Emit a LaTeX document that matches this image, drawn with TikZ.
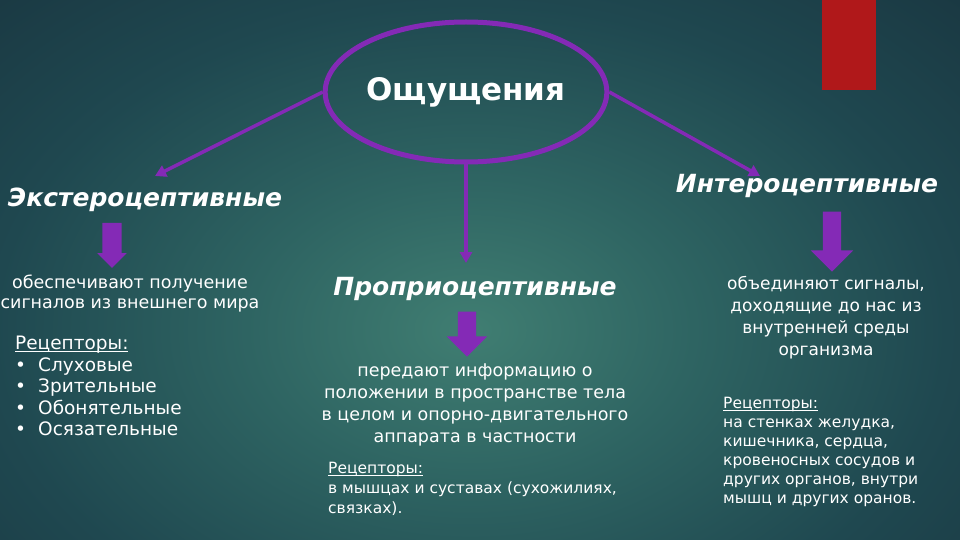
\documentclass[tikz,border=0pt]{standalone}
\usepackage{fontspec}
\setmainfont{DejaVu Sans}
\usetikzlibrary{arrows.meta,shapes.geometric,shapes.arrows}
\definecolor{bgcenter}{RGB}{64,126,114}
\definecolor{bgmid}{RGB}{46,100,98}
\definecolor{bgouter}{RGB}{31,72,80}
\definecolor{bgedge}{RGB}{26,56,66}
\definecolor{purp}{RGB}{132,42,182}
\definecolor{redbar}{RGB}{176,24,26}
\pgfdeclareradialshading{bgglow}{\pgfpoint{0bp}{0bp}}{color(0bp)=(bgcenter); color(8bp)=(bgmid); color(17bp)=(bgouter); color(25bp)=(bgedge); color(50bp)=(bgedge)}
\newcommand{\fs}[2]{\fontsize{#1pt}{#2pt}\selectfont}
\newcommand{\recul}[1]{\underline{\raisebox{0pt}[\height][0pt]{#1}}}
\begin{document}
\begin{tikzpicture}[x=1pt, y=-1pt,
	every node/.style={text=white, inner sep=0pt},
	heading/.style={font=\fs{25}{30}\bfseries\itshape, anchor=base},
	desc/.style={font=\fs{17.5}{22}, align=center, anchor=north},
	recep/.style={align=left, anchor=north west},
	link/.style={draw=purp, line width=3.5pt, -{Triangle[length=11pt,width=12pt]}},
	blockarrow/.style={single arrow, shape border rotate=270, fill=purp, inner sep=9pt}]
			\useasboundingbox (0,0) rectangle (960,540);
			\begin{scope}
				\clip (0,0) rectangle (960,540);
				\fill[bgedge] (0,0) rectangle (960,540);
				\shade[shading=bgglow] (470,330) ellipse [x radius=700pt, y radius=480pt];
			\end{scope}
			\fill[redbar] (822,0) rectangle (876,90);
			
			\node[ellipse, draw=purp, line width=5pt, minimum width=232pt, minimum height=140pt, font=\fs{31}{36}\bfseries] (oshch) at (466,92){Ощущения};
			
			\node[heading] (extero) at (145,206){Экстероцептивные};
			\node[heading] (proprio) at (475,295){Проприоцептивные};
			\node[heading] (intero) at (807,193){Интероцептивные};
			
			\coordinate (extend) at (155,176);
			\coordinate (proend) at (466,263);
			\coordinate (intend) at (760,176);
			
			\path[link] (oshch.west) -- (extend);
			\path[link] (oshch.south) -- (proend);
			\path[link] (oshch.east) -- (intend);
			
			\node[blockarrow, inner sep=9.5pt, single arrow head extend=5pt, minimum height=45pt] (extdown) at (112,240.5){};
			\node[blockarrow, single arrow head extend=11pt, minimum height=45pt] (prodown) at (467,329.5){};
			\node[blockarrow, single arrow head extend=12pt, minimum height=60pt] (intdown) at (832,237){};
			
			\node[desc, font=\fs{17.5}{20}] (extdesc) at (130,274.5){обеспечивают получение\\сигналов из внешнего мира};
			\node[desc] (prodesc) at (475,363.5){передают информацию о\\положении в пространстве тела\\в целом и опорно-двигательного\\аппарата в частности};
			\node[desc, font=\fs{17}{22}] (intdesc) at (826,276.5){объединяют сигналы,\\доходящие до нас из\\внутренней среды\\организма};
			
			\node[recep, font=\fs{18.5}{21.5}] (extrec) at (15,336){\recul{Рецепторы:}\\\makebox[23pt][l]{•}Слуховые\\\makebox[23pt][l]{•}Зрительные\\\makebox[23pt][l]{•}Обонятельные\\\makebox[23pt][l]{•}Осязательные};
			\node[recep, font=\fs{15.5}{20}] (prorec) at (328,462){\recul{Рецепторы:}\\в мышцах и суставах (сухожилиях,\\связках).};
			\node[recep, font=\fs{15.5}{19}] (intrec) at (723,397){\recul{Рецепторы:}\\на стенках желудка,\\кишечника, сердца,\\кровеносных сосудов и\\других органов, внутри\\мышц и других оранов.};
			\end{tikzpicture}
\end{document}
